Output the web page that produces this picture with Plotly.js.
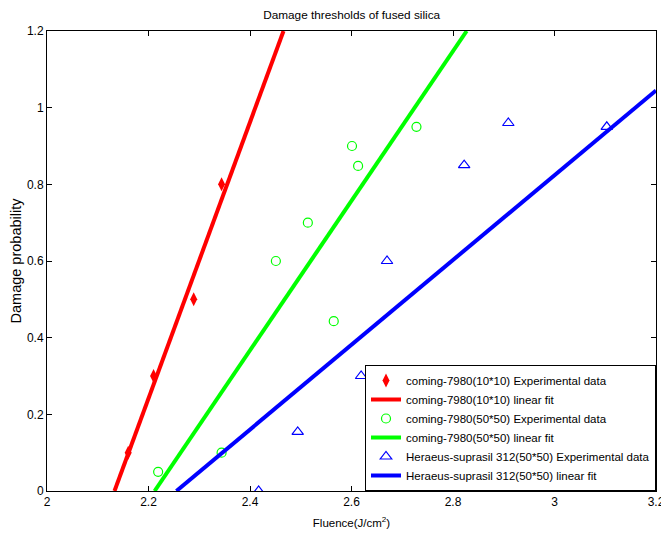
<!DOCTYPE html>
<html>
<head>
<meta charset="utf-8">
<script src="https://cdn.plot.ly/plotly-3.0.1.min.js"></script>
<style>html,body{margin:0;padding:0;background:#fff;}#chart{width:661px;height:536px;}</style>
</head>
<body>
<div id="chart"></div>
<script>
// Experimental data
const redX = [2.160, 2.210, 2.289, 2.344];
const redY = [0.10, 0.30, 0.50, 0.80];
const greenX = [2.219, 2.344, 2.451, 2.514, 2.565, 2.601, 2.613, 2.728];
const greenY = [0.05, 0.10, 0.60, 0.70, 0.443, 0.90, 0.848, 0.95];
const blueX = [2.417, 2.494, 2.619, 2.670, 2.822, 2.909, 3.103];
const blueY = [0.0, 0.154, 0.30, 0.60, 0.85, 0.96, 0.95];
// Linear fits (endpoints)
const redFitX = [2.133, 2.466];
const redFitY = [0.0, 1.2];
const greenFitX = [2.212, 2.827];
const greenFitY = [0.0, 1.2];
const blueFitX = [2.255, 3.2];
const blueFitY = [0.0, 1.045];

const names = [
  'coming-7980(10*10) Experimental data',
  'coming-7980(10*10) linear fit',
  'coming-7980(50*50) Experimental data',
  'coming-7980(50*50) linear fit',
  'Heraeus-suprasil 312(50*50) Experimental data',
  'Heraeus-suprasil 312(50*50) linear fit'
];

const REG = 'Liberation Sans, Arial, sans-serif';

const traces = [
  {x: redX, y: redY, mode: 'markers', name: names[0],
   marker: {symbol: 'diamond-tall', color: '#ff0000', size: 10}},
  {x: redFitX, y: redFitY, mode: 'lines', name: names[1],
   line: {color: '#ff0000', width: 4}},
  {x: greenX, y: greenY, mode: 'markers', name: names[2],
   marker: {symbol: 'circle-open', color: '#00ff00', size: 9, line: {width: 1.2}}},
  {x: greenFitX, y: greenFitY, mode: 'lines', name: names[3],
   line: {color: '#00ff00', width: 4}},
  {x: blueX, y: blueY, mode: 'markers', name: names[4],
   marker: {symbol: 'triangle-up-open', color: '#0000ff', size: 10, line: {width: 1.2}}},
  {x: blueFitX, y: blueFitY, mode: 'lines', name: names[5],
   line: {color: '#0000ff', width: 4}}
];

const axisCommon = {
  showgrid: false, zeroline: false, showline: true, linecolor: '#000', linewidth: 1,
  mirror: 'ticks', ticks: 'inside', ticklen: 5, tickcolor: '#000',
  ticklabeloverflow: 'allow',
  tickfont: {family: REG, size: 12, color: '#000'}
};

const layout = {
  width: 661, height: 536,
  margin: {l: 47, r: 5, t: 31, b: 45},
  paper_bgcolor: '#fff', plot_bgcolor: '#fff',
  font: {family: REG, size: 12, color: '#000'},
  title: {text: 'Damage thresholds of fused silica', x: 0.532, xanchor: 'center', y: 0.972, yanchor: 'middle',
          font: {family: REG, size: 11.8, color: '#000'}},
  xaxis: Object.assign({}, axisCommon, {range: [2, 3.2], dtick: 0.2, tick0: 2,
    title: {text: 'Fluence(J/cm<sup>2</sup>)', standoff: 10, font: {family: REG, size: 11.5}}}),
  yaxis: Object.assign({}, axisCommon, {range: [0, 1.2], dtick: 0.2, tick0: 0,
    title: {text: 'Damage probability', standoff: 1, font: {family: REG, size: 14.5}}}),
  showlegend: true,
  legend: {x: 1, xanchor: 'right', y: 0, yanchor: 'bottom', bgcolor: '#fff',
           bordercolor: '#000', borderwidth: 1, font: {family: REG, size: 11.5}, tracegroupgap: 0}
};

Plotly.newPlot('chart', traces, layout, {displayModeBar: false, staticPlot: true});
</script>
</body>
</html>
